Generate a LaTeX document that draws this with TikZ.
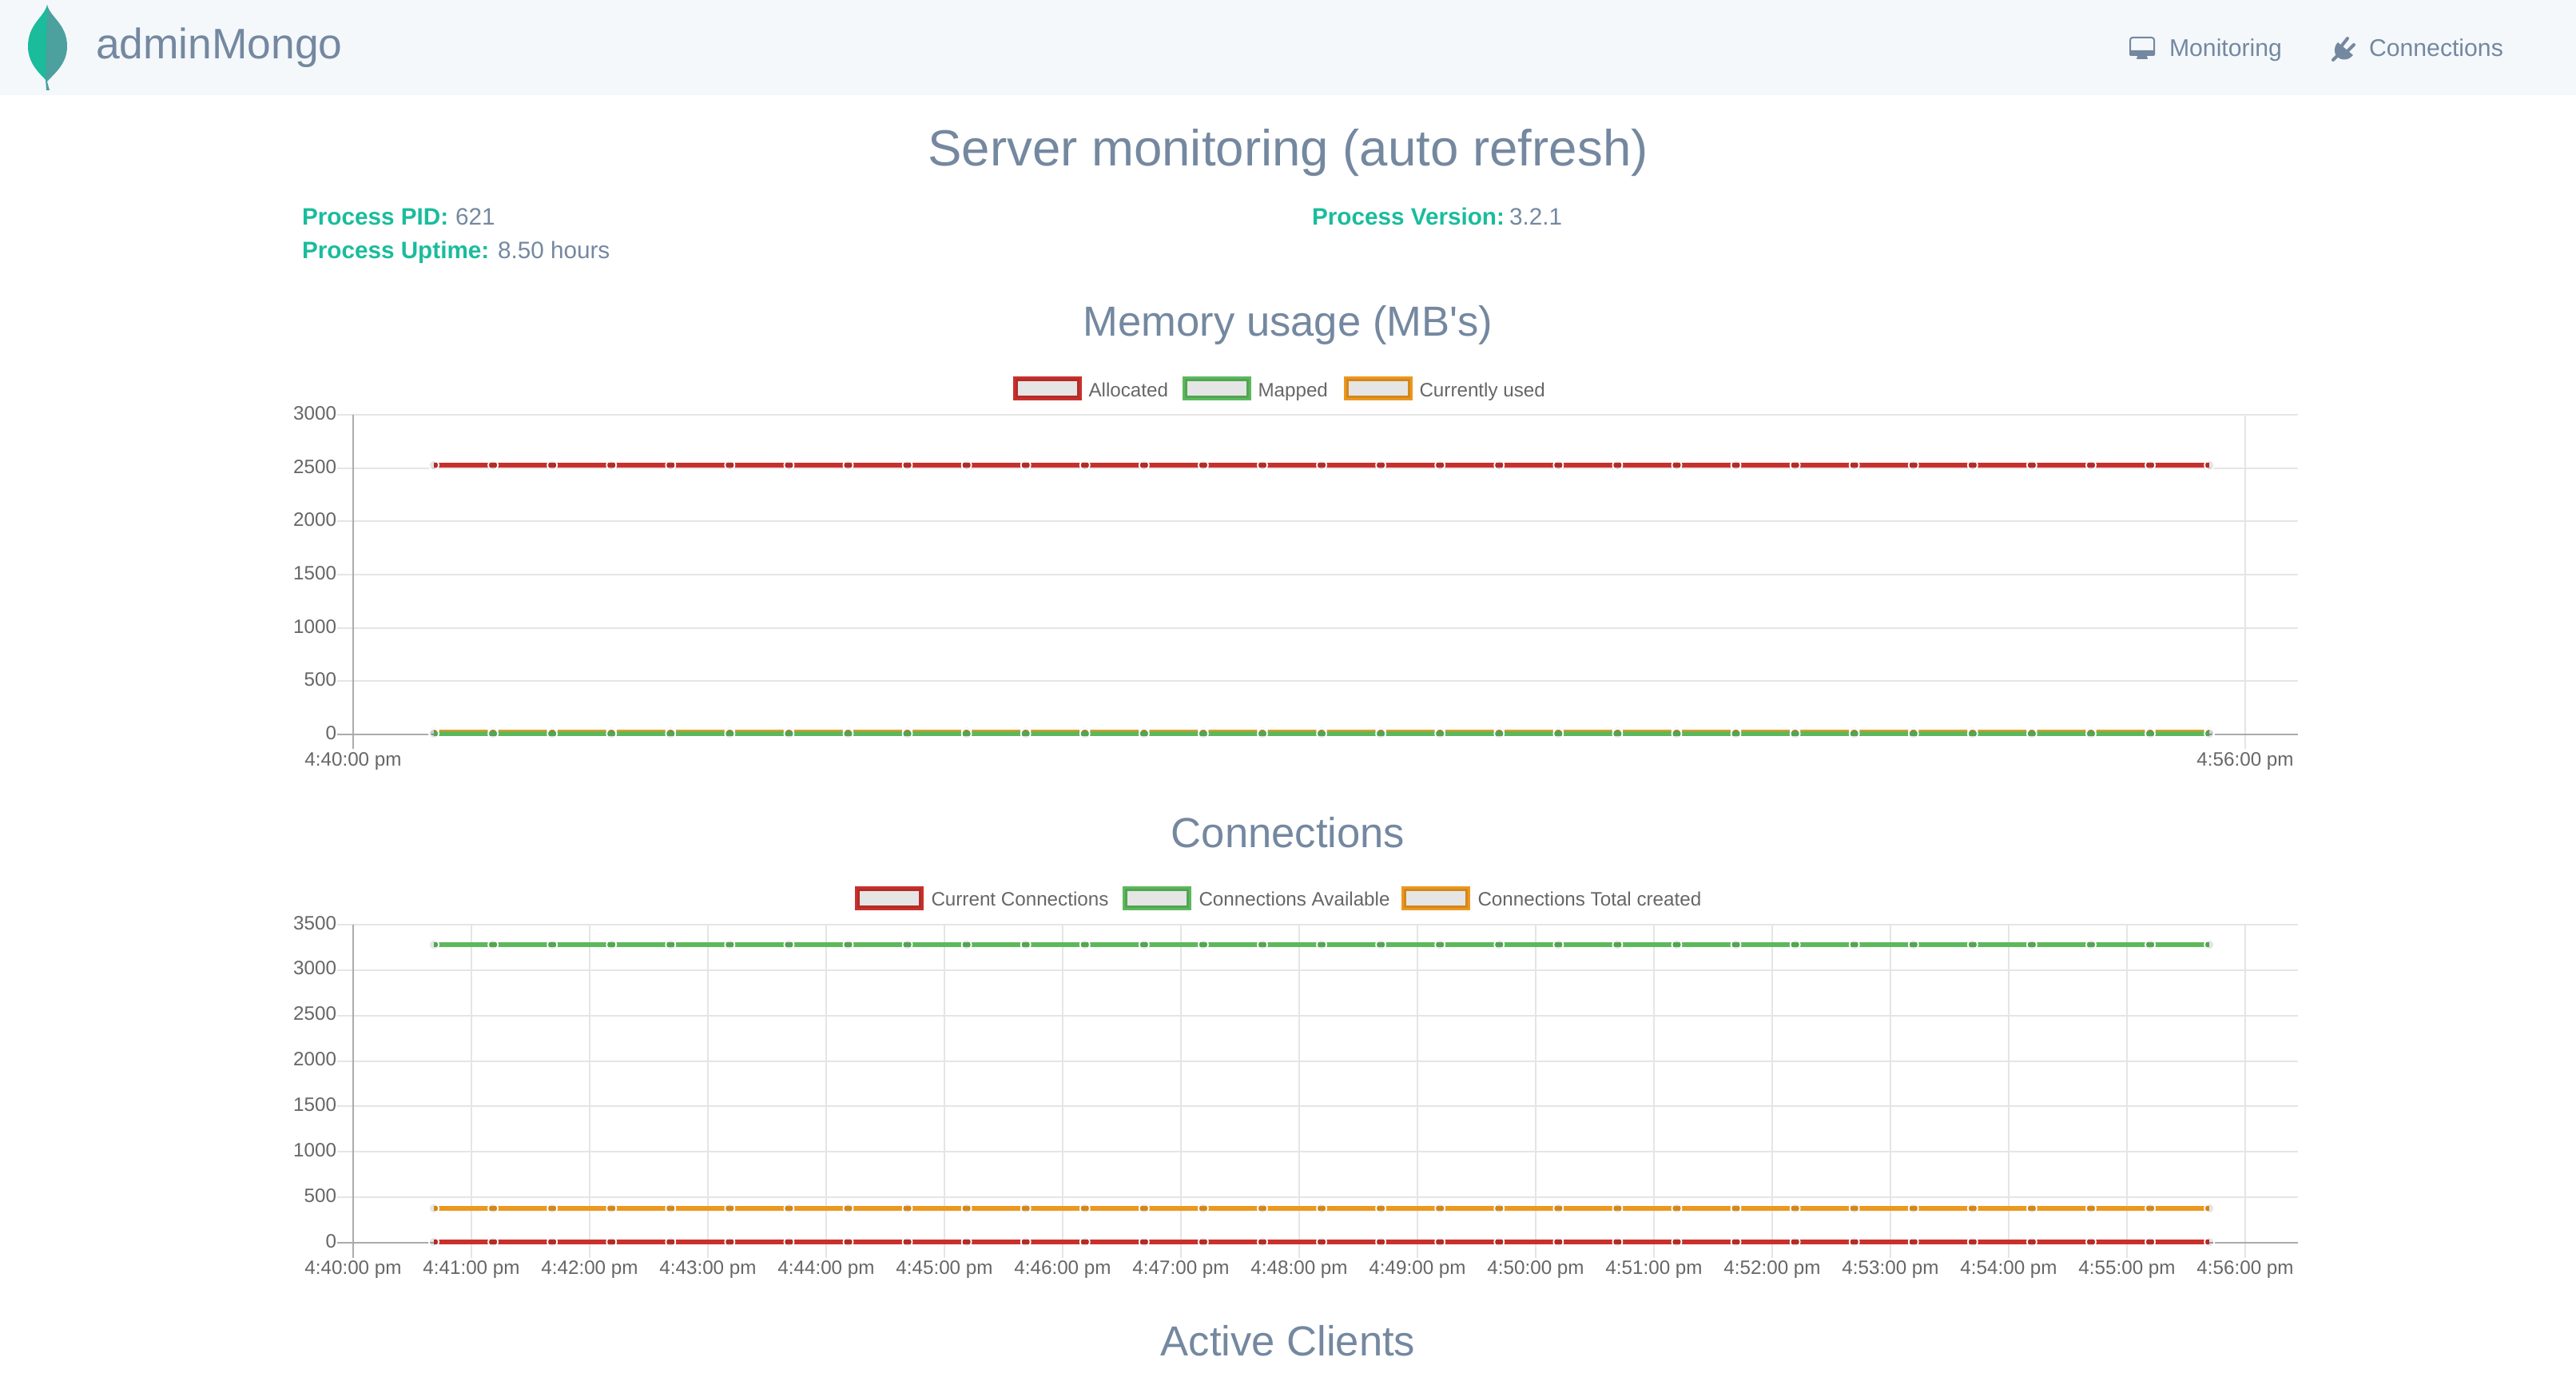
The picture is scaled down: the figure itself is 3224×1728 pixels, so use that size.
\documentclass[tikz,border=0pt]{standalone}
\usepackage{fontspec}
\setmainfont{Liberation Sans}[Ligatures=TeXOff]
\definecolor{navbg}{HTML}{F4F8FB}
\definecolor{slate}{HTML}{7488A0}
\definecolor{teal1}{HTML}{1ABC9C}
\definecolor{teal2}{HTML}{4CA09E}
\definecolor{chartred}{HTML}{C9302C}
\definecolor{chartgreen}{HTML}{5CB85C}
\definecolor{chartorange}{HTML}{EC971F}
\definecolor{gridgray}{HTML}{E5E5E5}
\definecolor{axisgray}{HTML}{ABABAB}
\definecolor{ticktext}{HTML}{666666}

% one series: y position, colour
\newcommand{\drawseries}[2]{
  \draw[seriesline, #2] (543,#1) -- (2765,#1);
}
\newcommand{\drawpoints}[1]{
  \foreach \i in {0,...,30} {
    \pgfmathsetmacro{\px}{543+74.07*\i}
    \draw[datapoint] (\px,#1) circle (6);
  }
}

\begin{document}
\begin{tikzpicture}[
  x=0.5pt, y=-0.5pt,
  every node/.style={inner sep=0pt, outer sep=0pt},
  brand/.style={anchor=base west, text=slate, font=\fontsize{26.7}{30}\selectfont},
  navlink/.style={anchor=base west, text=slate, font=\fontsize{15.1}{18}\selectfont},
  pagetitle/.style={anchor=base, text=slate, font=\fontsize{31.8}{36}\selectfont},
  sectiontitle/.style={anchor=base, text=slate, font=\fontsize{26.3}{30}\selectfont},
  infokey/.style={anchor=base west, text=teal1, font=\fontsize{14.85}{18}\selectfont\bfseries},
  infoval/.style={anchor=base west, text=slate, font=\fontsize{14.85}{18}\selectfont},
  tick/.style={text=ticktext, font=\fontsize{12.1}{14}\selectfont},
  ytick/.style={tick, anchor=base east},
  xtick/.style={tick, anchor=base},
  legendtext/.style={tick, anchor=base west},
  grid/.style={draw=gridgray, line width=1pt},
  axis/.style={draw=axisgray, line width=1pt},
  seriesline/.style={line width=3pt},
  datapoint/.style={draw=white, line width=0.9pt, fill=black, fill opacity=0.1},
  legendbox/.style={line width=3pt}
]
\useasboundingbox (0,0) rectangle (3224,1728);

% top bar
\fill[navbg] (0,0) rectangle (3224,119);
\fill[teal1] (59,6) .. controls (55,22) and (35,30) .. (35,58)
  .. controls (35,80) and (50,92) .. (59,102) -- cycle;
\fill[teal2] (59,6) .. controls (63,22) and (84,30) .. (84,58)
  .. controls (84,80) and (68,92) .. (59,102)
  -- (62,113) -- (58,113) -- (57,100) -- cycle;
\node[brand] (brandname) at (120,74) {adminMongo};

% monitor icon
\draw[slate, line width=1pt, rounded corners=1.5pt] (2666,47) rectangle (2696,69);
\fill[slate, rounded corners=1pt] (2665,63) rectangle (2697,70);
\fill[slate] (2675,70) -- (2687,70) -- (2688,74) -- (2674,74) -- cycle;
\node[navlink] (navmonitoring) at (2715,71) {Monitoring};

% plug icon
\fill[slate] (2926,53) -- (2945,69) .. controls (2938,77) and (2929,75) .. (2925,71)
  .. controls (2921,67) and (2920,59) .. cycle;
\draw[slate, line width=2pt, line cap=round] (2931,57) -- (2938,48);
\draw[slate, line width=2pt, line cap=round] (2938,64) -- (2946,56);
\draw[slate, line width=2pt, line cap=round] (2920,75) -- (2927,68);
\node[navlink] (navconnections) at (2965,71) {Connections};

\node[pagetitle] (pagehead) at (1612,208) {Server monitoring (auto refresh)};

% process info
\node[infokey] (pidkey) at (378,282) {Process PID:};
\node[infoval] (pidval) at (570,282) {621};
\node[infokey] (uptimekey) at (378,323) {Process Uptime:};
\node[infoval] (uptimeval) at (623,323) {8.50 hours};
\node[infokey] (versionkey) at (1642,282) {Process Version:};
\node[infoval] (versionval) at (1889,282) {3.2.1};

% memory chart
\node[sectiontitle] (memhead) at (1612,420) {Memory usage (MB's)};
\foreach \bx/\col/\lbl/\nm in {1271/chartred/Allocated/memalloc,
    1483/chartgreen/Mapped/memmapped, 1685/chartorange/Currently used/memused} {
  \draw[legendbox, \col] (\bx,474) rectangle ++(80,24);
  \fill[black, opacity=0.1] (\bx,474) rectangle ++(80,24);
  \node[legendtext] (\nm) at (\bx+91.5,496) {\lbl};
}
\foreach \lbl [count=\n from 0] in {3000,2500,2000,1500,1000,500,0} {
  \pgfmathsetmacro{\gy}{519+66.67*\n}
  \ifnum\n<6 \draw[grid] (422,\gy) -- (2876,\gy); \fi
  \node[ytick] (memy\n) at (421,\gy+6.5) {\lbl};
}
\draw[grid] (2810,519) -- (2810,937);
\draw[axis] (442,519) -- (442,937);
\draw[axis] (422,919) -- (2876,919);
\node[xtick] (memstart) at (442,958) {4:40:00 pm};
\node[xtick] (memend) at (2810,958) {4:56:00 pm};
\drawseries{582}{chartred}
\drawpoints{582}
\drawseries{915.5}{chartorange}
\drawpoints{915.5}
\drawseries{918}{chartgreen}
\drawpoints{918}

% connections chart
\node[sectiontitle] (connhead) at (1612,1060) {Connections};
\foreach \bx/\col/\lbl/\nm in {1073/chartred/Current Connections/conncurrent,
    1408/chartgreen/Connections Available/connavail, 1757/chartorange/Connections Total created/conntotal} {
  \draw[legendbox, \col] (\bx,1112) rectangle ++(80,24);
  \fill[black, opacity=0.1] (\bx,1112) rectangle ++(80,24);
  \node[legendtext] (\nm) at (\bx+92.5,1133) {\lbl};
}
\foreach \lbl [count=\n from 0] in {3500,3000,2500,2000,1500,1000,500,0} {
  \pgfmathsetmacro{\gy}{1157+56.86*\n}
  \ifnum\n<7 \draw[grid] (422,\gy) -- (2876,\gy); \fi
  \node[ytick] (conny\n) at (421,\gy+6) {\lbl};
}
\foreach \m [count=\n from 0] in {40,...,56} {
  \pgfmathsetmacro{\gx}{442+148*\n}
  \ifnum\n>0 \draw[grid] (\gx,1157) -- (\gx,1574); \fi
  \node[xtick] (connx\m) at (\gx,1594) {4:\m:00 pm};
}
\draw[axis] (442,1157) -- (442,1574);
\draw[axis] (422,1555) -- (2876,1555);
\drawseries{1182}{chartgreen}
\drawpoints{1182}
\drawseries{1512}{chartorange}
\drawpoints{1512}
\drawseries{1554}{chartred}
\drawpoints{1554}

\node[sectiontitle] (clienthead) at (1612,1696) {Active Clients};
\end{tikzpicture}
\end{document}
